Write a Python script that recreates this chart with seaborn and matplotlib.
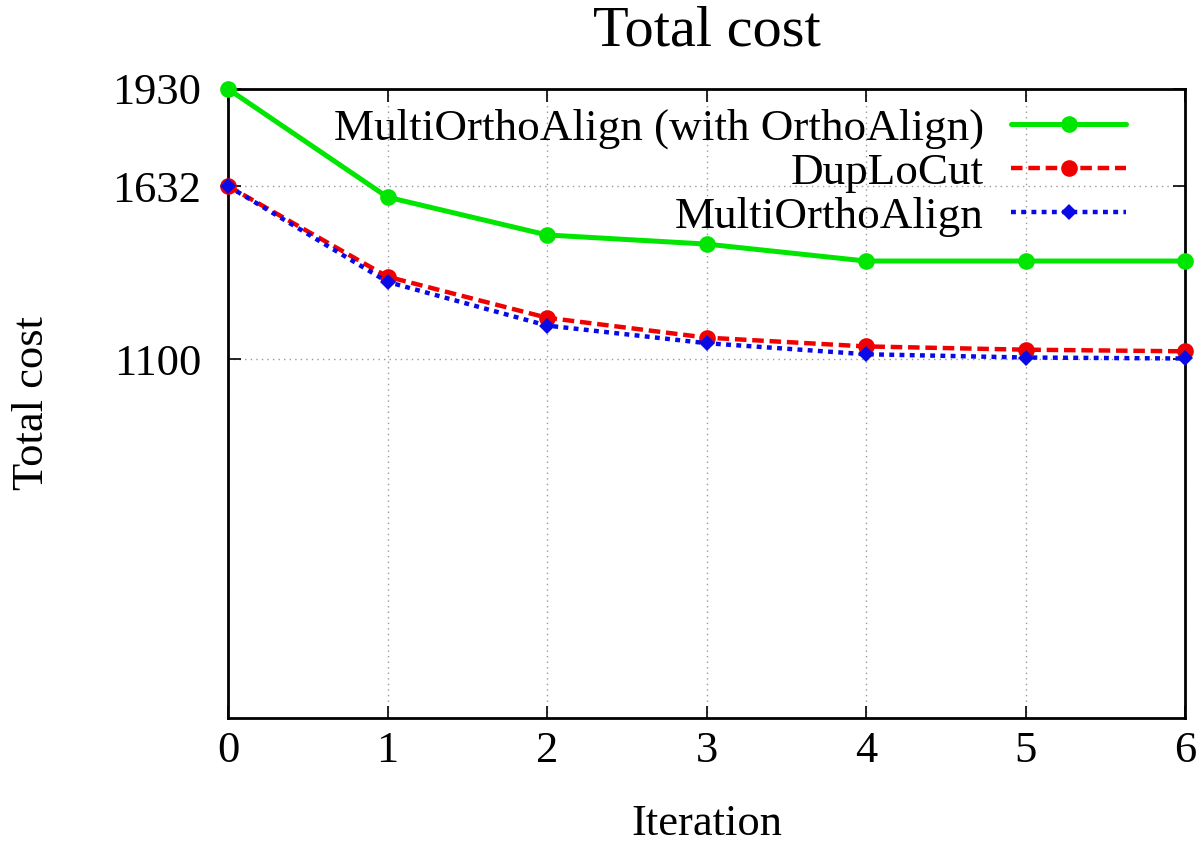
import pandas as pd
import matplotlib
matplotlib.use("Agg")
import matplotlib.pyplot as plt
import seaborn as sns

# values
iterations = [0, 1, 2, 3, 4, 5, 6]
multi_with_ortho = [1930, 1598, 1482, 1454, 1402, 1402, 1402]
duplocut = [1632, 1354, 1228, 1167, 1140, 1130, 1125]
multi_ortho = [1632, 1338, 1204, 1150, 1116, 1106, 1103]
yticks = [1100, 1632, 1930]

sns.set_style("ticks")
plt.rcParams['font.family'] = ['Liberation Serif', 'DejaVu Serif']
plt.rcParams['text.color'] = 'black'
plt.rcParams['axes.labelcolor'] = 'black'
plt.rcParams['xtick.color'] = 'black'
plt.rcParams['ytick.color'] = 'black'

fig = plt.figure(figsize=(12, 8.47), dpi=100)
ax = fig.add_axes([0.19, 0.1523, 0.7975, 0.7427])

sns.lineplot(x=iterations, y=multi_with_ortho, ax=ax, color='#00e600', linewidth=3.6,
             marker='o', markersize=12, markeredgewidth=0,
             label='MultiOrthoAlign (with OrthoAlign)', clip_on=False, zorder=3)
sns.lineplot(x=iterations, y=duplocut, ax=ax, color='#f00000', linewidth=3.2,
             linestyle=(0, (2.6, 1.3)), marker='o', markersize=12, markeredgewidth=0,
             label='DupLoCut', clip_on=False, zorder=4)
sns.lineplot(x=iterations, y=multi_ortho, ax=ax, color='#0a0ae6', linewidth=3.2,
             linestyle=(0, (1.1, 1.2)), marker='D', markersize=8.5, markeredgewidth=0,
             label='MultiOrthoAlign', clip_on=False, zorder=5)

ax.set_xlim(0, 6)
ax.set_ylim(0, 1930)
ax.set_xticks(iterations)
ax.set_yticks(yticks)
ax.tick_params(direction='in', length=9, width=1.2, top=True, right=True,
               labelsize=32)
ax.tick_params(axis='x', pad=9)
ax.tick_params(axis='y', pad=19)
for s in ax.spines.values():
    s.set_linewidth(2)
    s.set_color('black')
ax.grid(True, color='#999999', linestyle=(0, (1, 3)), linewidth=1)

ax.set_title('Total cost', fontsize=42, pad=31)
ax.set_xlabel('Iteration', fontsize=32)
ax.set_ylabel('Total cost', fontsize=32)
ax.xaxis.set_label_coords(0.5, -0.168)
ax.yaxis.set_label_coords(-0.205, 0.5)
ax.xaxis.label.set_va('center')
ax.yaxis.label.set_va('center')

leg = ax.legend(loc='upper right', bbox_to_anchor=(0.962, 1.006), frameon=False,
                markerfirst=False, fontsize=32.5, handlelength=2.55,
                labelspacing=0.08, handletextpad=0.6, borderpad=0.0)
for t in leg.get_texts():
    t.set_ha('right')

fig.savefig('out.png', dpi=100)
